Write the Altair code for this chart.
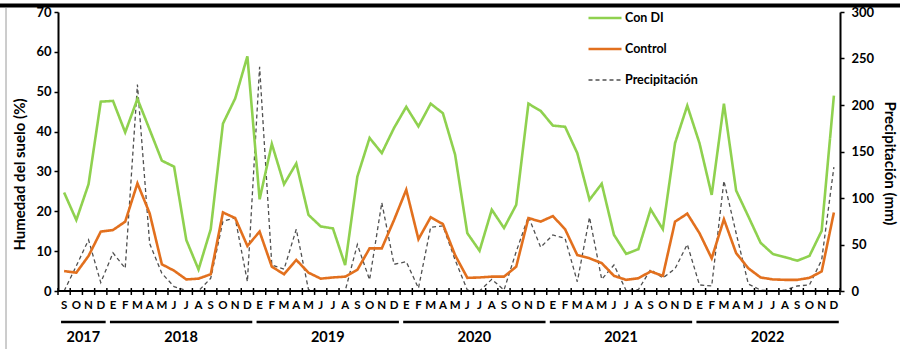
import altair as alt
import pandas as pd

# Month initials (Spanish), series starts in September 2017
meses_ciclo = ["E", "F", "M", "A", "M", "J", "J", "A", "S", "O", "N", "D"]
mes_inicial = 8
n_meses = 64

# Soil moisture (%) per month
con_di = [24.7, 17.8, 26.8, 47.5, 47.7, 39.8, 48.2, 40.5, 32.7, 31.2,
          12.8, 5.4, 15.5, 42.0, 48.3, 58.9, 23.0, 36.9, 26.8, 32.0,
          19.1, 16.2, 15.7, 6.5, 28.7, 38.4, 34.6, 40.9, 46.2, 41.3,
          47.0, 44.6, 34.2, 14.5, 10.1, 20.4, 15.8, 21.6, 47.0, 45.2,
          41.5, 41.2, 34.6, 22.9, 26.9, 14.1, 9.3, 10.5, 20.5, 15.5,
          37.1, 46.5, 37.1, 24.1, 47.0, 25.2, 18.7, 12.1, 9.3, 8.5,
          7.6, 8.8, 15.1, 49.0]
control = [5.0, 4.6, 8.8, 14.9, 15.3, 17.4, 27.0, 19.5, 6.7, 5.1,
           2.9, 3.1, 4.2, 19.7, 18.3, 11.3, 14.9, 6.1, 4.2, 7.8,
           4.6, 3.1, 3.4, 3.6, 5.3, 10.7, 10.7, 17.8, 25.4, 13.0,
           18.5, 16.8, 9.0, 3.3, 3.4, 3.6, 3.6, 6.1, 18.3, 17.4,
           18.8, 15.5, 9.0, 8.2, 7.0, 3.8, 2.8, 3.2, 4.9, 3.8,
           17.4, 19.4, 14.5, 8.2, 18.0, 9.5, 5.7, 3.4, 2.9, 2.8,
           2.8, 3.3, 4.9, 19.7]
# Monthly rainfall (mm)
precipitacion = [0, 27, 55, 9, 41, 24.4, 222, 51, 19, 4.7,
                 0.5, 0, 13.7, 75, 78.5, 10, 241, 28, 23.4, 66.4,
                 1.5, 0, 0, 0, 50, 12, 95, 28.7, 31.5, 3,
                 68.6, 70, 33.4, 1, 0, 12.6, 1, 42.3, 80, 47,
                 60.3, 56.5, 10, 79.3, 12.5, 28, 0.5, 1.5, 23, 14,
                 24, 50.2, 6.5, 5.4, 118.4, 62.1, 7.5, 1, 0, 1,
                 5.4, 6.5, 33.4, 133.2]

anios = ["2017", "2018", "2019", "2020", "2021", "2022"]
anio_primer_mes = [0, 4, 16, 28, 40, 52]
anio_ultimo_mes = [3, 15, 27, 39, 51, 63]

series = ["Con DI", "Control", "Precipitación"]
colores = ["#8fd14f", "#e2701e", "#505050"]
trazos = [[1, 0], [1, 0], [4, 3]]
grosores = [2.6, 2.6, 1.3]

W, H = 782, 279
FONT = "Lato"

idx = list(range(n_meses))
humedad = pd.DataFrame({
    "mes": idx + idx,
    "serie": ["Con DI"] * n_meses + ["Control"] * n_meses,
    "valor": con_di + control,
})
lluvia = pd.DataFrame({"mes": idx, "serie": "Precipitación", "valor": precipitacion})
etiquetas_mes = pd.DataFrame({
    "mes": idx,
    "letra": [meses_ciclo[(i + mes_inicial) % 12] for i in idx],
})
limites_mes = pd.DataFrame({"borde": [i - 0.5 for i in range(n_meses + 1)]})
bloques = pd.DataFrame({
    "anio": anios,
    "x0": [a - 0.25 for a in anio_primer_mes],
    "x1": [b + 0.4 for b in anio_ultimo_mes],
})
bloques["xc"] = (bloques["x0"] + bloques["x1"]) / 2

escala_x = alt.Scale(domain=[-0.5, n_meses - 0.5], nice=False, zero=False)

leyenda = alt.Legend(
    title=None, orient="none", legendX=529, legendY=-1, padding=0,
    symbolType="stroke", symbolSize=1089, clipHeight=14, rowPadding=17,
    labelOffset=2, labelFontSize=12.5, labelFont=FONT, labelFontWeight="bold",
    labelColor="black",
)
color = alt.Color("serie:N", scale=alt.Scale(domain=series, range=colores), legend=leyenda)
dash = alt.StrokeDash("serie:N", scale=alt.Scale(domain=series, range=trazos), legend=leyenda)
ancho = alt.StrokeWidth("serie:N", scale=alt.Scale(type="ordinal", domain=series, range=grosores),
                        legend=leyenda)

capa_lluvia = alt.Chart(lluvia).mark_line().encode(
    x=alt.X("mes:Q", scale=escala_x, axis=None),
    y=alt.Y("valor:Q", scale=alt.Scale(domain=[0, 300], nice=False),
            axis=alt.Axis(orient="right", title="Precipitación (mm)",
                          values=list(range(0, 301, 50)), grid=False,
                          tickSize=4, labelPadding=7, titleX=41, titleY=151,
                          titleAngle=90, titleBaseline="bottom", domainWidth=2)),
    color=color, strokeDash=dash, strokeWidth=ancho,
)

capa_humedad = alt.Chart(humedad).mark_line().encode(
    x=alt.X("mes:Q", scale=escala_x, axis=None),
    y=alt.Y("valor:Q", scale=alt.Scale(domain=[0, 70], nice=False),
            axis=alt.Axis(orient="left", title="Humedad del suelo (%)",
                          values=list(range(0, 71, 10)), grid=False,
                          tickSize=4, labelPadding=3, titleX=-31, titleY=162,
                          titleBaseline="bottom", domainWidth=2)),
    color=color, strokeDash=dash, strokeWidth=ancho,
    order=alt.Order("serie:N", sort="descending"),
)

# month axis: baseline, ticks between months, and month initials
eje_base = alt.Chart().mark_rule(color="black", strokeWidth=2).encode(
    x=alt.value(0), x2=alt.value(W), y=alt.value(H)
)
marcas_mes = alt.Chart(limites_mes).mark_rule(color="black", strokeWidth=1.5).encode(
    x=alt.X("borde:Q", scale=escala_x, axis=None), y=alt.value(H - 3), y2=alt.value(H + 4)
)
letras_mes = alt.Chart(etiquetas_mes).mark_text(
    font=FONT, fontWeight="bold", fontSize=11.5, color="black", baseline="middle"
).encode(
    x=alt.X("mes:Q", scale=escala_x, axis=None), y=alt.value(H + 15), text="letra:N"
)

# year brackets under the month labels
lineas_anio = alt.Chart(bloques).mark_rule(color="black", strokeWidth=2.6).encode(
    x=alt.X("x0:Q", scale=escala_x, axis=None), x2="x1:Q", y=alt.value(H + 31)
)
textos_anio = alt.Chart(bloques).mark_text(
    font=FONT, fontWeight="bold", fontSize=14.5, color="black", baseline="middle"
).encode(
    x=alt.X("xc:Q", scale=escala_x, axis=None), y=alt.value(H + 47), text="anio:N"
)

# page frame
franja_sup = alt.Chart().mark_rule(color="black", strokeWidth=4).encode(
    x=alt.value(-58), x2=alt.value(W + 60), y=alt.value(-6.5)
)
borde_izq = alt.Chart().mark_rule(color="#9a9a9a", strokeWidth=1).encode(
    x=alt.value(-52), y=alt.value(-4), y2=alt.value(H + 58)
)

chart = alt.layer(
    capa_lluvia, capa_humedad, eje_base, marcas_mes, letras_mes,
    lineas_anio, textos_anio, franja_sup, borde_izq
).resolve_scale(
    y="independent"
).properties(
    width=W, height=H,
    autosize=alt.AutoSizeParams(type="none"),
    padding={"left": 58, "top": 12, "right": 60, "bottom": 58},
).configure_view(
    stroke="transparent"
).configure_axis(
    labelFont=FONT, labelFontWeight="bold", labelFontSize=13, labelColor="black",
    titleFont=FONT, titleFontWeight="bold", titleFontSize=15, titleColor="black",
    domainColor="black", tickColor="black", tickWidth=1.5,
)

chart.save("out.html", embed_options={"renderer": "svg", "actions": False})
